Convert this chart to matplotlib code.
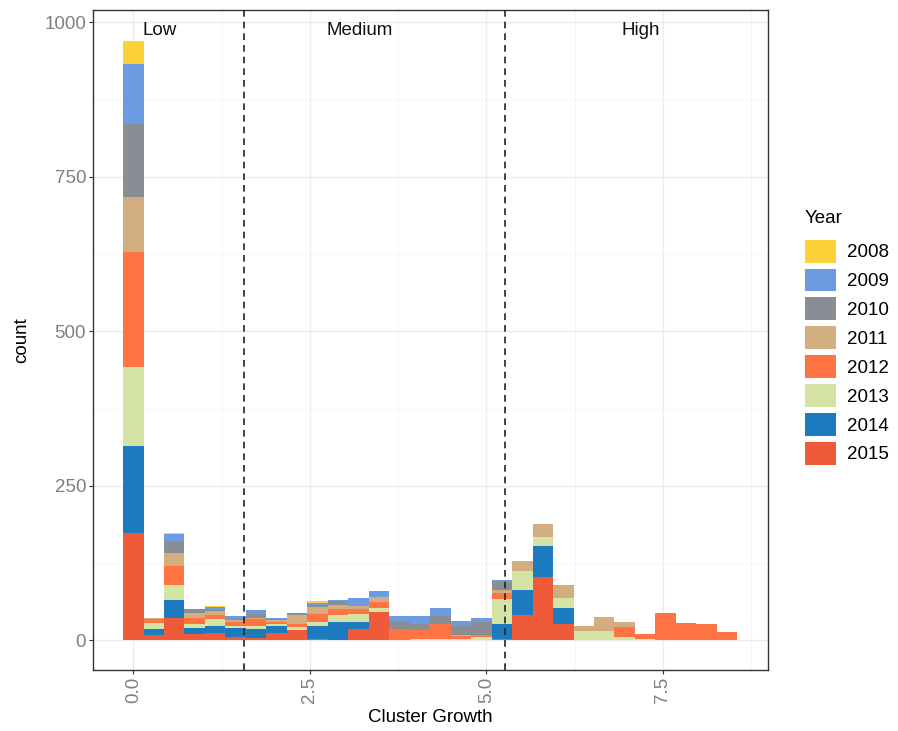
import matplotlib
matplotlib.use('Agg')
import matplotlib.pyplot as plt
import numpy as np

plt.rcParams['font.family'] = ['Liberation Sans', 'DejaVu Sans']

# bin centres of the histogram (cluster growth)
bin_centers = [0.00, 0.29, 0.58, 0.87, 1.16, 1.45, 1.74, 2.03, 2.32, 2.61,
               2.90, 3.19, 3.48, 3.77, 4.06, 4.35, 4.64, 4.93, 5.22, 5.51,
               5.80, 6.09, 6.38, 6.67, 6.96, 7.25, 7.54, 7.83, 8.12, 8.41]
bin_width = 0.29

years = ['2008', '2009', '2010', '2011', '2012', '2013', '2014', '2015']
colors = ['#FDD13A', '#6C9BE2', '#888E94', '#D1AD7F',
          '#FF7442', '#D5E3A4', '#1B7BBE', '#EF5A3A']

c2015 = [174, 8, 36, 10, 12, 5, 4, 12, 17, 2, 0, 19, 46, 0, 0, 0, 0, 0, 2, 41, 102, 27, 0, 0, 0, 0, 0, 0, 0, 0]
c2014 = [141, 10, 30, 10, 12, 15, 15, 11, 0, 21, 30, 11, 0, 0, 0, 0, 0, 0, 25, 40, 50, 25, 0, 0, 0, 0, 0, 0, 0, 0]
c2013 = [128, 10, 24, 6, 10, 3, 5, 3, 4, 7, 11, 13, 6, 1, 3, 3, 3, 5, 40, 32, 15, 16, 15, 15, 5, 3, 0, 0, 0, 0]
c2012 = [185, 6, 31, 11, 7, 6, 10, 3, 5, 12, 9, 8, 10, 18, 13, 23, 4, 4, 10, 0, 0, 0, 0, 0, 16, 8, 45, 28, 27, 14]
c2011 = [89, 2, 21, 7, 7, 4, 3, 4, 15, 12, 8, 4, 8, 0, 0, 0, 2, 0, 5, 15, 21, 22, 9, 23, 9, 0, 0, 0, 0, 0]
c2010 = [119, 0, 19, 6, 2, 2, 5, 1, 4, 4, 6, 0, 0, 12, 11, 14, 14, 20, 12, 0, 0, 0, 0, 0, 0, 0, 0, 0, 0, 0]
c2009 = [96, 0, 11, 0, 4, 5, 7, 3, 0, 3, 1, 14, 10, 8, 13, 13, 9, 7, 3, 0, 0, 0, 0, 0, 0, 0, 0, 0, 0, 0]
c2008 = [38, 0, 2, 0, 1, 0, 0, 0, 0, 2, 1, 0, 0, 0, 0, 0, 0, 0, 0, 0, 0, 0, 0, 0, 0, 0, 0, 0, 0, 0]

counts = [c2008, c2009, c2010, c2011, c2012, c2013, c2014, c2015]

cut_points = [1.572, 5.27]
group_labels = ['Low', 'Medium', 'High']
group_x = [0.38, 3.2, 7.18]

fig = plt.figure(figsize=(8.98, 7.31), dpi=100)
ax = fig.add_axes([0.1036, 0.0834, 0.7517, 0.9029])

# stack from 2015 at the bottom up to 2008 on top
bottom = np.zeros(len(bin_centers))
handles = {}
for yr, col, cnt in reversed(list(zip(years, colors, counts))):
    cnt = np.array(cnt)
    b = ax.bar(bin_centers, cnt, width=bin_width, bottom=bottom, color=col,
               linewidth=0, zorder=2)
    handles[yr] = b
    bottom += cnt

for xc in cut_points:
    ax.axvline(xc, color='#222222', linestyle=(0, (4, 3)), linewidth=1.2, zorder=3)

for lab, xl in zip(group_labels, group_x):
    ax.text(xl, 987, lab, ha='center', va='center', fontsize=13.5, color='#111111')

ax.set_xlim(-0.57, 8.99)
ax.set_ylim(-48, 1020)
ax.set_xticks([0, 2.5, 5, 7.5])
ax.set_xticklabels(['0.0', '2.5', '5.0', '7.5'], rotation=90)
ax.set_yticks([0, 250, 500, 750, 1000])
ax.set_xticks([1.25, 3.75, 6.25, 8.75], minor=True)
ax.set_yticks([125, 375, 625, 875], minor=True)
ax.grid(which='major', color='#EBEBEB', linewidth=1.0, zorder=0)
ax.grid(which='minor', color='#F4F4F4', linewidth=0.6, zorder=0)
ax.set_axisbelow(True)
ax.tick_params(which='major', length=3, pad=2, color='#333333', labelsize=13.5, labelcolor='#7F7F7F')
ax.tick_params(which='minor', length=0)
for s in ax.spines.values():
    s.set_color('#333333')
    s.set_linewidth(1.0)

ax.set_xlabel('Cluster Growth', fontsize=13.5, labelpad=4)
ax.set_ylabel('count', fontsize=13.5, labelpad=10)

leg = ax.legend([handles[y] for y in years], years, title='Year',
                loc='upper left', bbox_to_anchor=(1.043, 0.708), frameon=False,
                fontsize=13.5, title_fontsize=13.5, handlelength=1.65, handleheight=1.5,
                labelspacing=0.32, handletextpad=0.6, borderaxespad=0)
leg._legend_box.align = 'left'
leg._legend_box.sep = 9

plt.savefig('out.png', dpi=100)
